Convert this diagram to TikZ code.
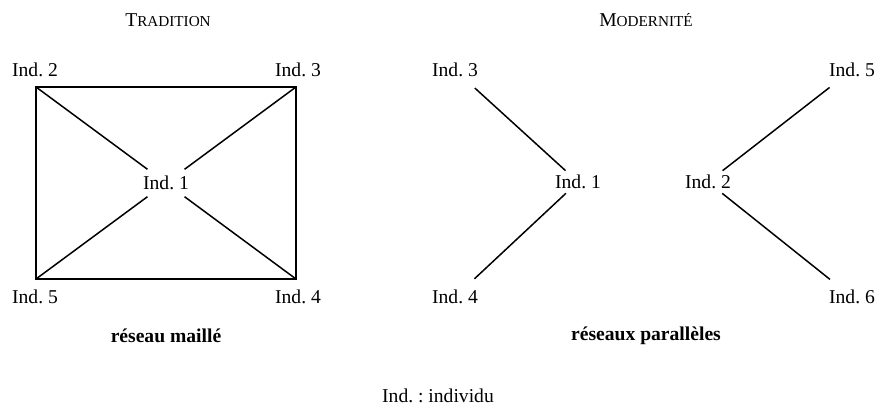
\documentclass[tikz,border=0pt]{standalone}
\usepackage{fontspec}
\setmainfont{Liberation Serif}
\AtBeginDocument{\frenchspacing}
\newcommand{\sct}[2]{{\fontsize{9.8}{12}\selectfont #1}{\fontsize{7.6}{9}\selectfont #2}}
\begin{document}
\begin{tikzpicture}[x=0.5pt,y=-0.5pt,
  lbl/.style={inner sep=2pt, font=\fontsize{9.8}{12}\selectfont},
  ttl/.style={inner sep=0pt},
  captxt/.style={inner sep=0pt, font=\fontsize{9.8}{12}\selectfont\bfseries},
  conn/.style={line width=0.75pt},
  boxline/.style={line width=0.9pt}]
\useasboundingbox (0,0) rectangle (876,416);
% titles
\node[ttl] (tt) at (168,20) {\sct{T}{RADITION}};
\node[ttl] (tm) at (646,20) {\sct{M}{ODERNITÉ}};
% left: mesh network
\coordinate (c2) at (36,87);
\coordinate (c3) at (296,87);
\coordinate (c4) at (296,279);
\coordinate (c5) at (36,279);
\node[lbl] (l2) at (35,70) {Ind. 2};
\node[lbl] (l3) at (298,70) {Ind. 3};
\node[lbl] (l5) at (35,297) {Ind. 5};
\node[lbl] (l4) at (298,297) {Ind. 4};
\node[lbl] (l1) at (166,183) {Ind. 1};
\draw[boxline] (c2) -- (c3) -- (c4) -- (c5) -- cycle;
\draw[conn, shorten >=2pt] (c2) -- (l1);
\draw[conn, shorten >=2pt] (c3) -- (l1);
\draw[conn, shorten >=2pt] (c4) -- (l1);
\draw[conn, shorten >=2pt] (c5) -- (l1);
% right: parallel networks
\node[lbl] (r3) at (455,70) {Ind. 3};
\node[lbl] (r5) at (852,70) {Ind. 5};
\node[lbl] (r4) at (455,297) {Ind. 4};
\node[lbl] (r6) at (852,297) {Ind. 6};
\node[lbl] (r1) at (578,182) {Ind. 1};
\node[lbl] (r2) at (708,182) {Ind. 2};
\draw[conn, shorten <=5pt] (r3) -- (r1);
\draw[conn, shorten <=5pt] (r4) -- (r1);
\draw[conn, shorten <=5pt] (r5) -- (r2);
\draw[conn, shorten <=5pt] (r6) -- (r2);
% captions
\node[captxt] (cl) at (166,336) {réseau maillé};
\node[captxt] (cr) at (646,336) {réseaux parallèles};
\node[lbl, inner sep=0pt] (leg) at (438,396) {Ind. : individu};
\end{tikzpicture}
\end{document}
